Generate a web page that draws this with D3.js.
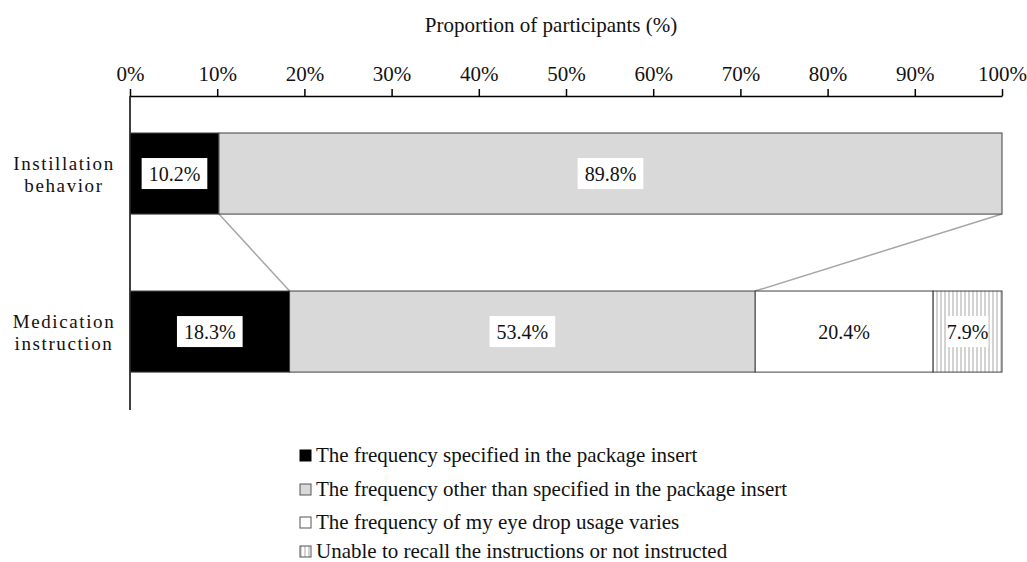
<!DOCTYPE html>
<html><head><meta charset="utf-8">
<script src="https://cdn.jsdelivr.net/npm/d3@7"></script>
<style>body{margin:0;background:#fff}svg{display:block}text{font-family:"Liberation Serif","Times New Roman","DejaVu Serif",serif;fill:#111}</style>
</head><body><svg id="c" width="1027" height="562"></svg>
<script>
const categories = ["Instillation behavior", "Medication instruction"];
const categoryLines = [["Instillation", "behavior"], ["Medication", "instruction"]];
const seriesNames = ["The frequency specified in the package insert","The frequency other than specified in the package insert","The frequency of my eye drop usage varies","Unable to recall the instructions or not instructed"];
const instillation = [10.2, 89.8, 0, 0];
const medication = [18.3, 53.4, 20.4, 7.9];
const tickValues = [0,10,20,30,40,50,60,70,80,90,100];
const axisTitle = "Proportion of participants (%)";

const FONT = '"Liberation Serif","Times New Roman",serif';
const svg = d3.select("#c");
const defs = svg.append("defs");
const pat = defs.append("pattern").attr("id","stripes").attr("patternUnits","userSpaceOnUse").attr("width",4).attr("height",10);
pat.append("rect").attr("width",4).attr("height",10).attr("fill","#fff");
pat.append("line").attr("x1",1).attr("x2",1).attr("y1",0).attr("y2",10).attr("stroke","#a8a8a8").attr("stroke-width",1);
const fills = ["#000000","#d9d9d9","#ffffff","url(#stripes)"];

const x = d3.scaleLinear().domain([0,100]).range([130,1002]);
const y = d3.scaleBand().domain(categories).range([109.3,395.8]).paddingInner(0.487).paddingOuter(0.15);
const rows = [instillation, medication];

// axis
const axis = d3.axisTop(x).tickValues(tickValues).tickFormat(d=>d+"%").tickSize(7).tickSizeOuter(0);
const ga = svg.append("g").attr("transform","translate(0,96)").call(axis);
ga.select(".domain").attr("stroke","#000").attr("stroke-width",1.5);
ga.selectAll(".tick line").attr("stroke","#000").attr("stroke-width",1.5);
ga.selectAll(".tick text").attr("font-size",21).attr("dy",-5).style("font-family",FONT).attr("fill","#111");
svg.append("line").attr("x1",130).attr("x2",130).attr("y1",96).attr("y2",410).attr("stroke","#000").attr("stroke-width",1.5);
svg.append("text").attr("x",551).attr("y",32).attr("text-anchor","middle").attr("font-size",21).text(axisTitle);

// connectors
const b0 = y(categories[0]) + y.bandwidth(), t1 = y(categories[1]);
svg.append("line").attr("x1",x(rows[0][0])).attr("y1",b0).attr("x2",x(rows[1][0])).attr("y2",t1).attr("stroke","#a6a6a6").attr("stroke-width",1.5);
svg.append("line").attr("x1",x(rows[0][0]+rows[0][1])).attr("y1",b0).attr("x2",x(rows[1][0]+rows[1][1])).attr("y2",t1).attr("stroke","#a6a6a6").attr("stroke-width",1.5);

rows.forEach((vals,i)=>{
  let cum = 0;
  const yy = y(categories[i]), h = y.bandwidth();
  vals.forEach((v,j)=>{
    if (v<=0) return;
    const x0 = x(cum), x1 = x(cum+v);
    svg.append("rect").attr("x",x0).attr("y",yy).attr("width",x1-x0).attr("height",h)
      .attr("fill",fills[j]).attr("stroke","#404040").attr("stroke-width",1);
    const cx = (x0+x1)/2, cy = yy+h/2;
    const label = v.toFixed(1)+"%";
    const t = svg.append("text").attr("x",cx).attr("y",cy).attr("dy","0.35em").attr("text-anchor","middle").attr("font-size",20).text(label);
    if (j!==2) {
      const bb = t.node().getBBox();
      const padX = j===3?0:7;
      svg.insert("rect", () => t.node()).attr("x",bb.x-padX).attr("y",cy-15.5).attr("width",bb.width+2*padX).attr("height",31).attr("fill","#fff");
    }
    cum += v;
  });
  const lines = categoryLines[i];
  const tt = svg.append("text").attr("text-anchor","middle").attr("font-size",19).attr("letter-spacing",1.6);
  lines.forEach((l,k)=>tt.append("tspan").attr("x",64).attr("y",yy+h/2-3.5+k*21.5).text(l));
});

// legend
const legY = [455,489,522,551];
seriesNames.forEach((n,j)=>{
  svg.append("rect").attr("x",300).attr("y",legY[j]-5).attr("width",11).attr("height",11)
    .attr("fill",j===3?"url(#stripes)":fills[j]).attr("stroke",j===0?"#000":"#555").attr("stroke-width",1);
  svg.append("text").attr("x",316).attr("y",legY[j]).attr("dy","0.35em").attr("font-size",21).text(n);
});
</script></body></html>
